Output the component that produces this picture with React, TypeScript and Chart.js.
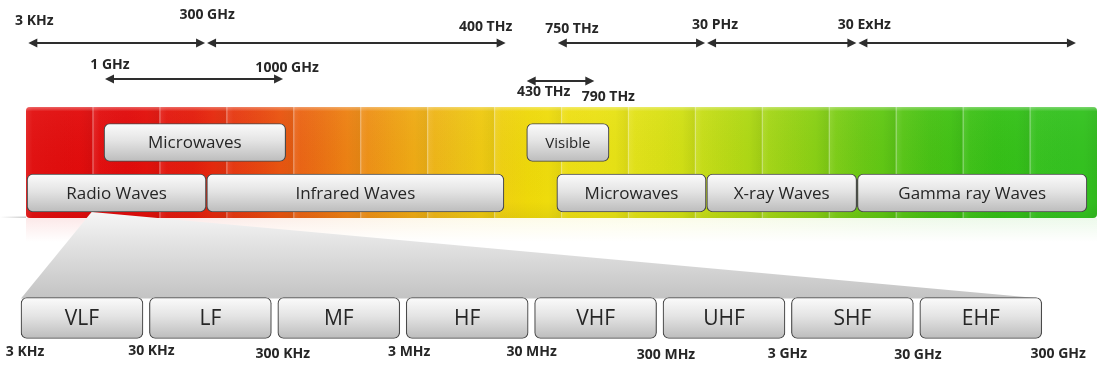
import React, { useEffect, useRef } from 'react';
import { Chart, registerables } from 'chart.js';

Chart.register(...registerables);

// ---------------- data ----------------
// Spectrum axis: the glossy band is made of 16 tiles, value 0 = left edge of the band
const segmentColors = [
  '#e20c0c', '#e10a0a', '#e41c0b', '#e8460e', '#ec7411', '#efa013', '#eec214', '#efd909',
  '#ece214', '#dae114', '#b8da13', '#94d213', '#6ac913', '#47c213', '#34c015', '#33c21f',
];

// Frequency marks above the band (positions on the schematic spectrum axis)
const upperMarks = ['3 KHz', '300 GHz', '400 THz', '750 THz', '30 PHz', '30 ExHz'];
const upperMarkAt = [0.02, 2.69, 7.18, 7.93, 10.16, 12.42];
const upperArrowFrom = [0.02, 2.69, 7.93, 10.16, 12.42];
const upperArrowTo = [2.69, 7.18, 10.16, 12.42, 15.7];

const innerMarks = ['1 GHz', '1000 GHz', '430 THz', '790 THz'];
const innerMarkAt = [1.18, 3.84, 7.48, 8.49];
const innerArrowFrom = [1.18, 7.48];
const innerArrowTo = [3.84, 8.49];

// Regions of the spectrum
const upperRegions = ['Microwaves', 'Visible'];
const upperFrom = [1.165, 7.48];
const upperTo = [3.88, 8.71];

const lowerRegions = ['Radio Waves', 'Infrared Waves', 'Microwaves', 'X-ray Waves', 'Gamma ray Waves'];
const lowerFrom = [0.015, 2.7, 7.93, 10.17, 12.42];
const lowerTo = [2.69, 7.14, 10.16, 12.41, 15.85];

// Radio sub-bands (zoomed axis, one unit per band)
const radioBands = ['VLF', 'LF', 'MF', 'HF', 'VHF', 'UHF', 'SHF', 'EHF'];
const radioEdges = ['3 KHz', '30 KHz', '300 KHz', '3 MHz', '30 MHz', '300 MHz', '3 GHz', '30 GHz', '300 GHz'];

// ---------------- layout / style ----------------
const W = 1099;
const H = 368;
const PAD = { left: 26, right: 2, top: 43, bottom: 25 };
const ROW = {
  upperArrow: 0,
  innerArrowA: 1.44,
  innerArrowB: 1.52,
  bandTop: 2.56,
  upperBox: 3.98,
  lowerBox: 6,
  bandBottom: 7.0,
  radio: 11,
};
const Y_MAX = 12;
const BAND_FILL = 0.95;
const RADIO_PITCH_PX = 128.4;
const RADIO_ORIGIN_PX = 21;
const areaW = W - PAD.left - PAD.right;
const x2Min = (PAD.left - RADIO_ORIGIN_PX) / RADIO_PITCH_PX;
const x2Max = x2Min + areaW / RADIO_PITCH_PX;

const THICK = { upper: 38, lower: 38, radio: 41 };

const markFont = 'bold 14px "Open Sans", "DejaVu Sans", sans-serif';
const textColor = '#262626';

const upperNudge = [[7, -22], [1, -28], [-21, -16], [15, -14], [9, -18], [7, -18]];
const innerNudge = [[5, -14], [4, -11], [17, 11], [14, 16]];
const edgeNudge = [[4, 34], [2, 33], [5, 36], [3, 34], [-3, 34], [3, 37], [-4, 36], [-2, 37], [10, 36]];

const boxFill = (thickness: number) => (c: any) => {
  const chart = c.chart;
  const ys = chart.scales && chart.scales.y;
  if (!ys || !c.raw) return '#e0e0e0';
  const yc = ys.getPixelForValue(c.raw.y);
  if (!Number.isFinite(yc)) return '#e0e0e0';
  const g = chart.ctx.createLinearGradient(0, yc - thickness / 2, 0, yc + thickness / 2);
  g.addColorStop(0, '#fbfbfb');
  g.addColorStop(0.45, '#e4e4e4');
  g.addColorStop(1, '#bcbcbc');
  return g;
};

function roundRectPath(ctx: CanvasRenderingContext2D, x: number, y: number, w: number, h: number, r: number) {
  ctx.beginPath();
  ctx.moveTo(x + r, y);
  ctx.lineTo(x + w - r, y);
  ctx.quadraticCurveTo(x + w, y, x + w, y + r);
  ctx.lineTo(x + w, y + h - r);
  ctx.quadraticCurveTo(x + w, y + h, x + w - r, y + h);
  ctx.lineTo(x + r, y + h);
  ctx.quadraticCurveTo(x, y + h, x, y + h - r);
  ctx.lineTo(x, y + r);
  ctx.quadraticCurveTo(x, y, x + r, y);
  ctx.closePath();
}

function drawArrow(ctx: CanvasRenderingContext2D, a: number, b: number, yy: number) {
  const h = 9;
  const w = 4.5;
  ctx.save();
  ctx.strokeStyle = '#2e2e2e';
  ctx.fillStyle = '#2e2e2e';
  ctx.lineWidth = 2;
  ctx.beginPath();
  ctx.moveTo(a + h - 1, yy);
  ctx.lineTo(b - h + 1, yy);
  ctx.stroke();
  ctx.beginPath();
  ctx.moveTo(a, yy);
  ctx.lineTo(a + h, yy - w);
  ctx.lineTo(a + h, yy + w);
  ctx.closePath();
  ctx.fill();
  ctx.beginPath();
  ctx.moveTo(b, yy);
  ctx.lineTo(b - h, yy - w);
  ctx.lineTo(b - h, yy + w);
  ctx.closePath();
  ctx.fill();
  ctx.restore();
}

const spectrumPlugin = {
  id: 'spectrum',
  beforeDraw(chart: any) {
    const ctx: CanvasRenderingContext2D = chart.ctx;
    ctx.save();
    ctx.fillStyle = '#ffffff';
    ctx.fillRect(0, 0, chart.width, chart.height);
    ctx.restore();
  },
  beforeDatasetsDraw(chart: any) {
    const ctx: CanvasRenderingContext2D = chart.ctx;
    const xs = chart.scales.x;
    const ys = chart.scales.y;
    const x2 = chart.scales.x2;
    const n = segmentColors.length;
    const L = xs.getPixelForValue(0);
    const R = xs.getPixelForValue(n);
    const T = ys.getPixelForValue(ROW.bandTop);
    const B = ys.getPixelForValue(ROW.bandBottom);
    if (![L, R, T, B].every(Number.isFinite)) return;

    const grad = ctx.createLinearGradient(L, 0, R, 0);
    segmentColors.forEach((c, i) => grad.addColorStop((i + 0.5) / n, c));

    ctx.save();
    // faint reflection below the band
    ctx.globalAlpha = 0.09;
    ctx.fillStyle = grad;
    ctx.fillRect(L, B, R - L, 24);
    ctx.globalAlpha = 1;
    const fade = ctx.createLinearGradient(0, B, 0, B + 24);
    fade.addColorStop(0, 'rgba(255,255,255,0)');
    fade.addColorStop(1, 'rgba(255,255,255,1)');
    ctx.fillStyle = fade;
    ctx.fillRect(L - 1, B, R - L + 2, 25);

    // floor line on the left
    const fl = ctx.createLinearGradient(0, 0, L, 0);
    fl.addColorStop(0, 'rgba(190,190,190,0)');
    fl.addColorStop(1, 'rgba(190,190,190,0.8)');
    ctx.fillStyle = fl;
    ctx.fillRect(0, B - 1.5, L, 1.5);

    // band body
    roundRectPath(ctx, L, T, R - L, B - T, 4);
    ctx.fillStyle = grad;
    ctx.fill();
    ctx.save();
    ctx.clip();
    for (let i = 0; i < n; i++) {
      const sx = xs.getPixelForValue(i);
      const ex = xs.getPixelForValue(i + 1);
      const sg = ctx.createLinearGradient(sx, 0, ex, 0);
      sg.addColorStop(0, 'rgba(255,255,255,0.10)');
      sg.addColorStop(0.1, 'rgba(255,255,255,0.02)');
      sg.addColorStop(0.8, 'rgba(0,0,0,0)');
      sg.addColorStop(1, 'rgba(0,0,0,0.05)');
      ctx.fillStyle = sg;
      ctx.fillRect(sx, T, ex - sx, B - T);
      if (i > 0) {
        ctx.fillStyle = 'rgba(255,255,255,0.38)';
        ctx.fillRect(sx - 0.6, T, 1.2, B - T);
      }
    }
    const vt = ctx.createLinearGradient(0, T, 0, B);
    vt.addColorStop(0, 'rgba(255,255,255,0.35)');
    vt.addColorStop(0.04, 'rgba(255,255,255,0.04)');
    vt.addColorStop(0.85, 'rgba(0,0,0,0)');
    vt.addColorStop(1, 'rgba(0,0,0,0.05)');
    ctx.fillStyle = vt;
    ctx.fillRect(L, T, R - L, B - T);
    ctx.restore();

    // zoom wedge from the radio region down to the radio sub-bands
    const apexX = xs.getPixelForValue(0.98);
    const apexY = ys.getPixelForValue(ROW.lowerBox) + THICK.lower / 2;
    const baseY = ys.getPixelForValue(ROW.radio) - THICK.radio / 2 + 1;
    const bl = x2.getPixelForValue(0);
    const br = x2.getPixelForValue(radioBands.length - 1 + BAND_FILL);
    const wg = ctx.createLinearGradient(0, apexY, 0, baseY);
    wg.addColorStop(0, '#f6f6f6');
    wg.addColorStop(0.3, '#e6e6e6');
    wg.addColorStop(1, '#c3c3c3');
    ctx.beginPath();
    ctx.moveTo(apexX, apexY);
    ctx.lineTo(br, baseY);
    ctx.lineTo(bl, baseY);
    ctx.closePath();
    ctx.fillStyle = wg;
    ctx.fill();

    // arrows
    const ua = ys.getPixelForValue(ROW.upperArrow);
    upperArrowFrom.forEach((f, i) => {
      drawArrow(ctx, xs.getPixelForValue(f) + 1, xs.getPixelForValue(upperArrowTo[i]) - 1, ua);
    });
    const innerRows = [ROW.innerArrowA, ROW.innerArrowB];
    innerArrowFrom.forEach((f, i) => {
      drawArrow(ctx, xs.getPixelForValue(f), xs.getPixelForValue(innerArrowTo[i]), ys.getPixelForValue(innerRows[i]));
    });

    // mark labels
    ctx.font = markFont;
    ctx.fillStyle = textColor;
    ctx.textAlign = 'center';
    ctx.textBaseline = 'middle';
    upperMarks.forEach((t, i) => {
      ctx.fillText(t, xs.getPixelForValue(upperMarkAt[i]) + upperNudge[i][0], ua + upperNudge[i][1]);
    });
    const innerLabelRows = [ROW.innerArrowA, ROW.innerArrowA, ROW.innerArrowB, ROW.innerArrowB];
    innerMarks.forEach((t, i) => {
      ctx.fillText(t, xs.getPixelForValue(innerMarkAt[i]) + innerNudge[i][0], ys.getPixelForValue(innerLabelRows[i]) + innerNudge[i][1]);
    });
    const ry = ys.getPixelForValue(ROW.radio);
    radioEdges.forEach((t, i) => {
      ctx.fillText(t, x2.getPixelForValue(i) + edgeNudge[i][0], ry + edgeNudge[i][1]);
    });
    ctx.restore();
  },
  afterDatasetsDraw(chart: any) {
    const ctx: CanvasRenderingContext2D = chart.ctx;
    ctx.save();
    ctx.fillStyle = textColor;
    ctx.textAlign = 'center';
    ctx.textBaseline = 'middle';
    chart.data.datasets.forEach((ds: any, di: number) => {
      const meta = chart.getDatasetMeta(di);
      meta.data.forEach((el: any, i: number) => {
        const p = el.getProps(['x', 'base', 'y'], true);
        ctx.font = ds.fonts[i];
        ctx.fillText(ds.names[i], (p.x + p.base) / 2, p.y + 1);
      });
    });
    ctx.restore();
  },
};

const boxFont = (px: number) => `${px}px "Open Sans", "DejaVu Sans", sans-serif`;

export default function App() {
  const ref = useRef<HTMLCanvasElement>(null);
  useEffect(() => {
    document.body.style.margin = '0';
    const common = {
      borderColor: '#4a4a4a',
      borderWidth: 1.2,
      borderRadius: 6,
      borderSkipped: false,
      grouped: false,
      clip: false,
    };
    const chart = new Chart(ref.current as HTMLCanvasElement, {
      type: 'bar',
      data: {
        datasets: [
          {
            ...common,
            label: 'upper',
            names: upperRegions,
            fonts: [boxFont(17), boxFont(15)],
            data: upperRegions.map((_, i) => ({ x: [upperFrom[i], upperTo[i]], y: ROW.upperBox })),
            barThickness: THICK.upper,
            backgroundColor: boxFill(THICK.upper),
          },
          {
            ...common,
            label: 'lower',
            names: lowerRegions,
            fonts: lowerRegions.map(() => boxFont(17)),
            data: lowerRegions.map((_, i) => ({ x: [lowerFrom[i], lowerTo[i]], y: ROW.lowerBox })),
            barThickness: THICK.lower,
            backgroundColor: boxFill(THICK.lower),
          },
          {
            ...common,
            label: 'radio',
            xAxisID: 'x2',
            names: radioBands,
            fonts: radioBands.map(() => boxFont(21)),
            data: radioBands.map((_, i) => ({ x: [i, i + BAND_FILL], y: ROW.radio })),
            barThickness: THICK.radio,
            backgroundColor: boxFill(THICK.radio),
          },
        ] as any,
      },
      options: {
        indexAxis: 'y',
        responsive: false,
        animation: false,
        devicePixelRatio: 1,
        events: [],
        layout: { padding: PAD },
        scales: {
          x: { type: 'linear', axis: 'x', min: 0, max: segmentColors.length, offset: false, display: false },
          x2: { type: 'linear', axis: 'x', min: x2Min, max: x2Max, offset: false, display: false },
          y: { type: 'linear', axis: 'y', min: 0, max: Y_MAX, reverse: true, offset: false, display: false },
        },
        plugins: {
          legend: { display: false },
          tooltip: { enabled: false },
        },
      } as any,
      plugins: [spectrumPlugin],
    });
    return () => chart.destroy();
  }, []);
  return (
    <div style={{ width: W, height: H, overflow: 'hidden' }}>
      <canvas ref={ref} width={W} height={H} style={{ display: 'block' }} />
    </div>
  );
}
